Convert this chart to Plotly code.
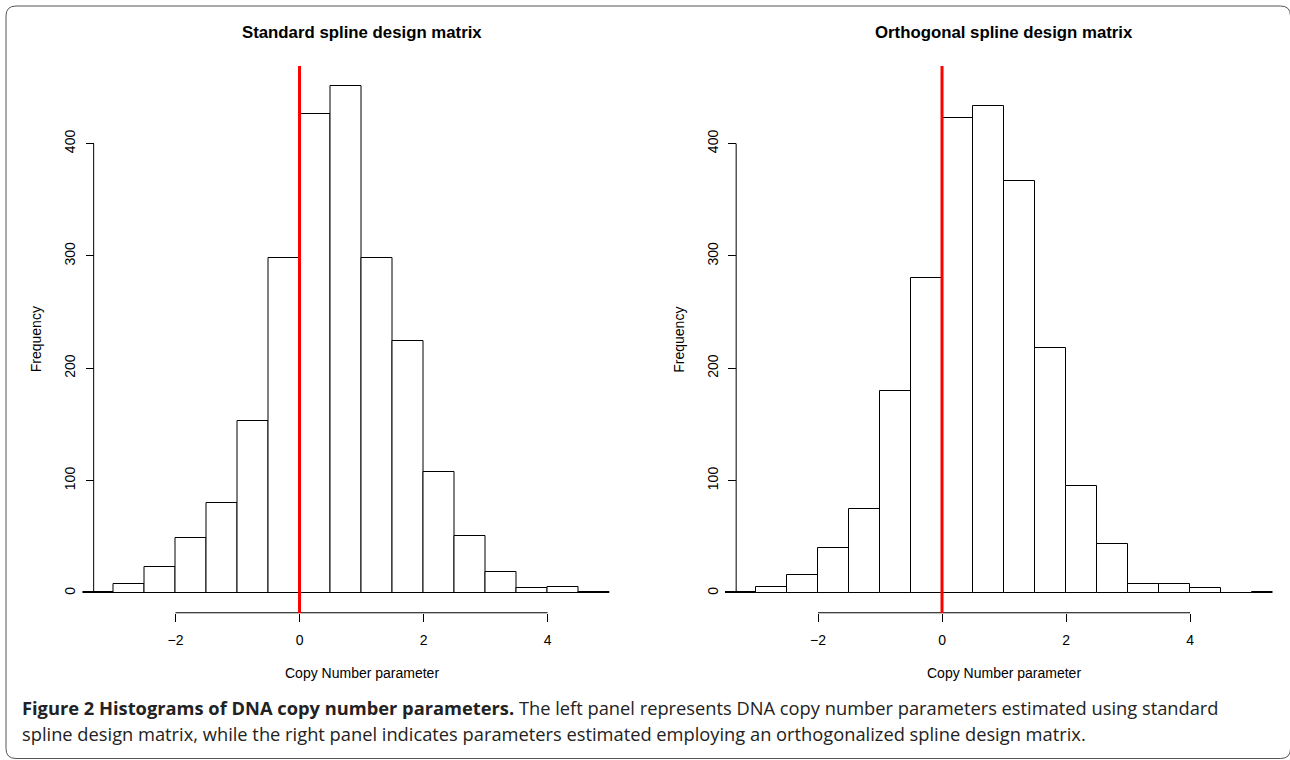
import plotly.graph_objects as go

# ---------------- data ----------------
bin_edges = [-3.5, -3.0, -2.5, -2.0, -1.5, -1.0, -0.5, 0.0, 0.5, 1.0, 1.5,
             2.0, 2.5, 3.0, 3.5, 4.0, 4.5, 5.0, 5.5]
standard_counts = [1, 8, 23, 49, 80, 153, 298, 426, 451, 298, 224, 108, 51, 19, 4, 5, 1]
orthogonal_counts = [1, 5, 16, 40, 75, 180, 280, 423, 433, 367, 218, 95, 44, 8, 8, 4, 0, 1]
x_ticks = [-2, 0, 2, 4]
y_ticks = [0, 100, 200, 300, 400]
panel_titles = ["Standard spline design matrix", "Orthogonal spline design matrix"]
x_label = "Copy Number parameter"
y_label = "Frequency"
ref_value = 0
caption_bold = "Figure 2 Histograms of DNA copy number parameters."
caption_line1 = " The left panel represents DNA copy number parameters estimated using standard"
caption_line2 = ("spline design matrix, while the right panel indicates parameters estimated "
                 "employing an orthogonalized spline design matrix.")

# ---------------- layout constants ----------------
W, H = 1290, 760
X_RANGE = [-3.5, 5.33]
Y_RANGE = [-18.04, 469.04]
AXIS_X = -3.32           # where the y axis is drawn (R usr left edge)
BIN_W = 0.5
FONT = "Liberation Sans, Arial, Helvetica, sans-serif"
CAP_FONT = "Open Sans, Lato, sans-serif"

panels = [
    dict(counts=standard_counts, px=(82.5, 630.0), title=panel_titles[0]),
    dict(counts=orthogonal_counts, px=(725.0, 1272.5), title=panel_titles[1]),
]
y_dom = [1 - 613.2 / H, 1 - 66.0 / H]

fig = go.Figure()
shapes = []
annotations = []

for i, p in enumerate(panels):
    n = i + 1
    xa = "x" if n == 1 else f"x{n}"
    ya = "y" if n == 1 else f"y{n}"
    counts = p["counts"]
    centers = [bin_edges[k] + BIN_W / 2 for k in range(len(counts))]
    fig.add_trace(go.Bar(
        x=centers, y=counts, width=BIN_W,
        marker=dict(color="white", line=dict(color="black", width=1)),
        xaxis=xa, yaxis=ya, showlegend=False, hoverinfo="skip",
    ))
    x0, x1 = p["px"]
    dom = [x0 / W, x1 / W]
    span = X_RANGE[1] - X_RANGE[0]
    axis_px = x0 + (AXIS_X - X_RANGE[0]) / span * (x1 - x0)

    xkey = "xaxis" if n == 1 else f"xaxis{n}"
    ykey = "yaxis" if n == 1 else f"yaxis{n}"
    fig.layout[xkey] = dict(
        domain=dom, range=X_RANGE, anchor=ya,
        showgrid=False, zeroline=False, showline=False,
        ticks="outside", ticklen=8, tickwidth=1, tickcolor="black",
        tickmode="array", tickvals=x_ticks,
        tickfont=dict(family=FONT, size=14, color="black"),
        ticklabelstandoff=6, fixedrange=True,
    )
    fig.layout[ykey] = dict(
        domain=y_dom, range=Y_RANGE, anchor="free", position=axis_px / W,
        showgrid=False, zeroline=False, showline=False,
        ticks="outside", ticklen=8, tickwidth=1, tickcolor="black",
        tickmode="array", tickvals=y_ticks, tickangle=-90,
        tickfont=dict(family=FONT, size=14, color="black"),
        ticklabelstandoff=5, fixedrange=True,
    )
    # axis lines spanning the tick range (R style)
    shapes.append(dict(type="line", xref=xa, yref=ya, x0=AXIS_X, x1=AXIS_X,
                       y0=y_ticks[0], y1=y_ticks[-1],
                       line=dict(color="black", width=1)))
    shapes.append(dict(type="line", xref=xa, yref=ya, x0=x_ticks[0], x1=x_ticks[-1],
                       y0=Y_RANGE[0], y1=Y_RANGE[0],
                       line=dict(color="black", width=2)))
    # red reference line
    shapes.append(dict(type="line", xref=xa, yref=ya, x0=ref_value, x1=ref_value,
                       y0=Y_RANGE[0], y1=Y_RANGE[1],
                       line=dict(color="#ff0000", width=3), layer="above"))

    cx = (AXIS_X + X_RANGE[1]) / 2
    annotations.append(dict(text="<b>" + p["title"] + "</b>", xref=xa, yref="paper",
                            x=cx, y=1 - 32 / H, showarrow=False,
                            xanchor="center", yanchor="middle",
                            font=dict(family=FONT, size=16.8, color="black")))
    annotations.append(dict(text=x_label, xref=xa, yref="paper",
                            x=cx, y=1 - 673 / H, showarrow=False,
                            xanchor="center", yanchor="middle",
                            font=dict(family=FONT, size=14, color="black")))
    annotations.append(dict(text=y_label, xref="paper", yref="paper",
                            x=(axis_px - 58) / W, y=(y_dom[0] + y_dom[1]) / 2,
                            textangle=-90, showarrow=False,
                            xanchor="center", yanchor="middle",
                            font=dict(family=FONT, size=14, color="black")))

# caption
annotations.append(dict(text="<b>" + caption_bold + "</b>" + caption_line1,
                        xref="paper", yref="paper", x=20 / W, y=1 - 707 / H,
                        xanchor="left", yanchor="middle", showarrow=False,
                        font=dict(family=CAP_FONT, size=18.3, color="#222222")))
annotations.append(dict(text=caption_line2,
                        xref="paper", yref="paper", x=20 / W, y=1 - 733 / H,
                        xanchor="left", yanchor="middle", showarrow=False,
                        font=dict(family=CAP_FONT, size=18.3, color="#222222")))

# rounded border frame
bx0, bx1 = 6 / W, 1290.5 / W
by1, by0 = 1 - 6 / H, 1 - 758.5 / H
rx, ry = 10 / W, 10 / H
path = (f"M {bx0+rx},{by1} L {bx1-rx},{by1} Q {bx1},{by1} {bx1},{by1-ry} "
        f"L {bx1},{by0+ry} Q {bx1},{by0} {bx1-rx},{by0} "
        f"L {bx0+rx},{by0} Q {bx0},{by0} {bx0},{by0+ry} "
        f"L {bx0},{by1-ry} Q {bx0},{by1} {bx0+rx},{by1} Z")
shapes.append(dict(type="path", xref="paper", yref="paper", path=path,
                   line=dict(color="#555555", width=1), layer="below"))

fig.update_layout(
    width=W, height=H, autosize=False,
    margin=dict(l=0, r=0, t=0, b=0),
    paper_bgcolor="white", plot_bgcolor="white",
    bargap=0, showlegend=False,
    shapes=shapes, annotations=annotations,
)

fig.write_html("out.html", config={"displayModeBar": False},
               post_script="document.body.style.margin='0';document.body.style.overflow='hidden';")
